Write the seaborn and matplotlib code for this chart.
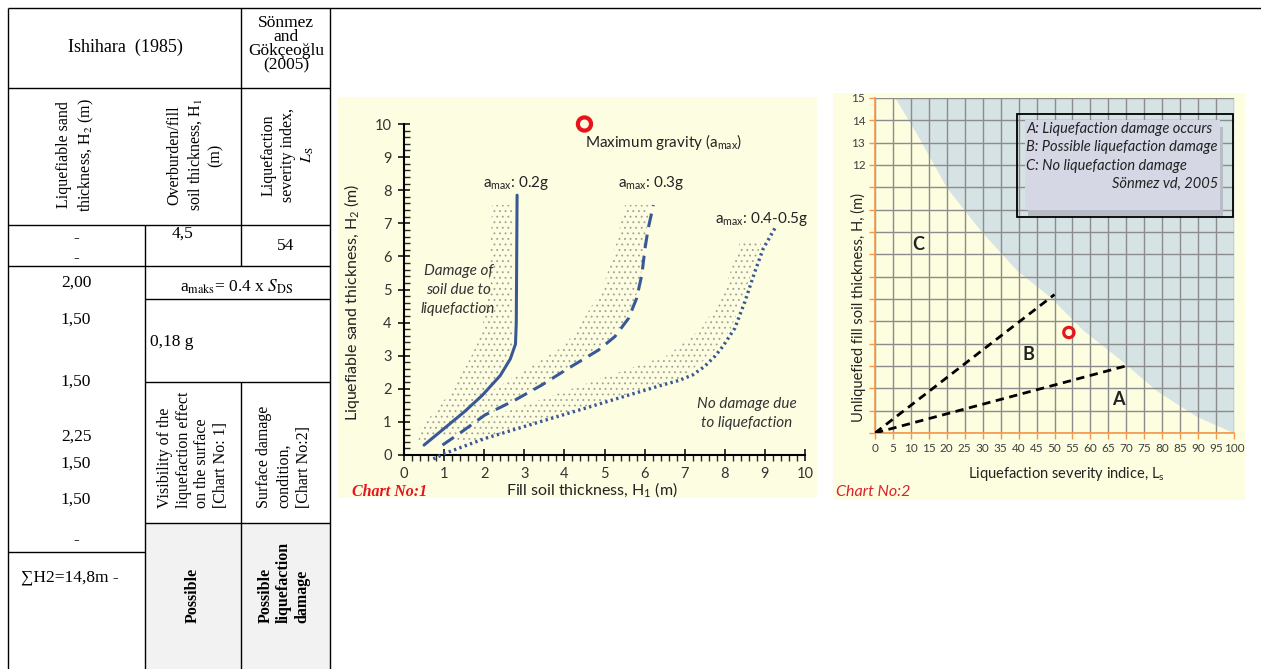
import numpy as np
import pandas as pd
import matplotlib
matplotlib.use("Agg")
import matplotlib.pyplot as plt
import seaborn as sns
from matplotlib.patches import Rectangle
from matplotlib.ticker import MultipleLocator

# ── Chart No:1 (Ishihara 1985) — boundary curves, H1 (x) vs H2 (y) ──────────
curve_02_h1 = [0.5, 1.0, 1.5, 1.95, 2.4, 2.65, 2.78, 2.8, 2.82]
curve_02_h2 = [0.3, 0.8, 1.3, 1.8, 2.4, 2.9, 3.35, 4.0, 7.85]
curve_03_h1 = [0.96, 1.44, 2.02, 2.77, 3.43, 4.1, 4.85, 5.26, 5.6, 5.8, 5.93, 6.01, 6.09, 6.22]
curve_03_h2 = [0.3, 0.7, 1.21, 1.66, 2.11, 2.62, 3.17, 3.58, 4.13, 4.73, 5.44, 6.24, 6.85, 7.55]
curve_045_h1 = [0.73, 1.02, 2.02, 3.27, 4.51, 5.6, 6.43, 6.85, 7.2, 7.5, 7.75, 7.95,
                8.25, 8.5, 8.75, 8.96, 9.25]
curve_045_h2 = [-0.12, 0.05, 0.5, 0.96, 1.41, 1.81, 2.11, 2.25, 2.42, 2.68, 2.98, 3.28,
                3.83, 4.63, 5.54, 6.24, 6.85]

# stippled transition bands (left edge / right edge at given H2)
band1_h2 = [0.4, 0.8, 1.3, 1.8, 2.3, 2.8, 3.3, 3.8, 5.0, 6.0, 7.55]
band1_left = [0.35, 0.4, 0.75, 1.1, 1.35, 1.6, 1.8, 1.95, 2.1, 2.15, 2.2]
band1_right = [0.6, 1.0, 1.5, 1.95, 2.3, 2.6, 2.72, 2.72, 2.72, 2.72, 2.72]
band2_h2 = [0.6, 1.0, 1.5, 2.0, 2.5, 3.0, 3.3, 4.0, 5.0, 6.0, 7.55]
band2_left = [0.95, 1.1, 1.6, 2.27, 2.93, 3.6, 4.0, 4.43, 4.93, 5.22, 5.51]
band2_right = [1.3, 1.75, 2.55, 3.3, 4.0, 4.6, 4.95, 5.5, 5.85, 5.98, 6.12]
band3_h2 = [0.4, 1.0, 1.61, 2.32, 3.02, 3.83, 4.63, 5.34, 6.45]
band3_left = [1.2, 1.77, 3.27, 4.93, 6.59, 7.42, 7.84, 8.09, 8.38]
band3_right = [1.8, 3.3, 4.95, 6.9, 7.65, 8.15, 8.42, 8.62, 8.92]

site_h1, site_h2 = 4.5, 10.0

# ── Chart No:2 (Sönmez & Gökçeoğlu 2005) — Ls (x) vs H1 (y) ─────────────────
zone_c_ls = [5.6, 11.6, 19.9, 29.2, 39.4, 48.7, 58, 68.2, 78.4, 89.5, 100]
zone_c_h = [15, 13.4, 11.0, 9.1, 7.3, 6.1, 4.6, 3.3, 1.9, 0.75, 0]
line_b_ls, line_b_h = [0, 50], [0, 6.2]
line_a_ls, line_a_h = [0, 71], [0, 3.05]
site_ls = 54

# ── Table values ─────────────────────────────────────────────────────────────
h2_values = ["2,00", "1,50", "1,50", "2,25", "1,50", "1,50", "-"]
h2_rows_y = [283, 320, 382, 437, 464, 500, 540]
h2_total = "∑H2=14,8m -"
h1_value = "4,5"
ls_value = "54"
amax_value = "0,18 g"

W, H = 1261, 669
BLUE = "#3a5896"
RED = "#e8141c"

sns.set_theme(style="ticks")
plt.rcParams["font.family"] = ["Lato", "DejaVu Sans"]
plt.rcParams["mathtext.fontset"] = "custom"
plt.rcParams["mathtext.rm"] = "Lato"
plt.rcParams["mathtext.it"] = "Lato:italic"
plt.rcParams["hatch.linewidth"] = 0.6

fig = plt.figure(figsize=(W / 100, H / 100), dpi=100)
fig.patch.set_facecolor("white")

# ── Table drawn in pixel space ───────────────────────────────────────────────
ax_t = fig.add_axes([0, 0, 1, 1], zorder=0)
ax_t.set_xlim(0, W)
ax_t.set_ylim(H, 0)
ax_t.axis("off")

ax_t.add_patch(Rectangle((145, 523), 185, 146, fc="#f2f2f2", ec="none"))
ax_t.add_patch(Rectangle((338, 97), 479, 401, fc="#fdfde2", ec="none"))
ax_t.add_patch(Rectangle((833, 93), 412, 407, fc="#fdfde0", ec="none"))

lines = [((8, 1261), (8, 8)), ((8, 8), (8, 669)), ((330, 330), (8, 669)),
         ((241, 241), (8, 266)), ((8, 330), (88, 88)), ((8, 330), (225, 225)),
         ((145, 145), (225, 669)), ((8, 330), (266, 266)), ((145, 330), (299, 299)),
         ((145, 330), (382, 382)), ((241, 241), (382, 669)), ((145, 330), (523, 523)),
         ((8, 145), (552, 552))]
for xs, ys in lines:
    ax_t.plot(xs, ys, color="black", lw=1.0, solid_capstyle="butt")

serif = dict(family="Liberation Serif", math_fontfamily="stix", color="black")
ax_t.text(125, 47, "Ishihara  (1985)", fontsize=13, ha="center", va="center", **serif)
ax_t.text(286, 44, "Sönmez\nand\nGökçeoğlu\n(2005)", fontsize=12.5, ha="center",
          va="center", linespacing=0.85, **serif)
ax_t.text(76, 155, "Liquefiable sand\nthickness, H$_2$ (m)", fontsize=11.5, rotation=90,
          ha="center", va="center", multialignment="center", linespacing=1.35, **serif)
ax_t.text(195, 155, "Overburden/fill\nsoil thickness, H$_1$\n(m)", fontsize=11.5, rotation=90,
          ha="center", va="center", multialignment="center", linespacing=1.3, **serif)
ax_t.text(288, 155, "Liquefaction\nseverity index,\n$L_{\\rm S}$", fontsize=11.5, rotation=90,
          ha="center", va="center", multialignment="center", linespacing=1.3, **serif)
ax_t.text(76, 238, "-", fontsize=12.5, ha="center", va="center", **serif)
ax_t.text(76, 258, "-", fontsize=12.5, ha="center", va="center", **serif)
ax_t.text(183, 234, h1_value, fontsize=12.5, ha="center", va="center", **serif)
ax_t.text(286, 246, ls_value, fontsize=12.5, ha="center", va="center", **serif)
for val, yy in zip(h2_values, h2_rows_y):
    ax_t.text(76, yy, val, fontsize=12.5, ha="center", va="center", **serif)
ax_t.text(70, 578, h2_total, fontsize=12.5, ha="center", va="center", **serif)
ax_t.text(237, 287, "a$_{\\rm maks}$= 0.4 x $S_{\\rm DS}$", fontsize=12.5, ha="center",
          va="center", **serif)
ax_t.text(150, 342, amax_value, fontsize=12.5, ha="left", va="center", **serif)
ax_t.text(193, 508, "Visibility of the\nliquefaction effect\non the surface\n[Chart No: 1]",
          fontsize=11.5, rotation=90, ha="center", va="bottom", multialignment="left",
          linespacing=1.2, **serif)
ax_t.text(284, 508, "Surface damage\ncondition,\n[Chart No:2]", fontsize=11.5, rotation=90,
          ha="center", va="bottom", multialignment="left", linespacing=1.35, **serif)
ax_t.text(193, 623, "Possible", fontsize=11.5, rotation=90, fontweight="bold",
          ha="center", va="bottom", **serif)
ax_t.text(284, 623, "Possible\nliquefaction\ndamage", fontsize=11.5, rotation=90,
          fontweight="bold", ha="center", va="bottom", multialignment="left",
          linespacing=1.2, **serif)

# ── Chart No:1 ───────────────────────────────────────────────────────────────
ax1 = fig.add_axes([404 / W, (H - 455) / H, 401 / W, 331 / H], zorder=2)
ax1.patch.set_alpha(0)

for by, bl, br in [(band1_h2, band1_left, band1_right),
                   (band2_h2, band2_left, band2_right),
                   (band3_h2, band3_left, band3_right)]:
    ax1.fill_betweenx(by, bl, br, facecolor="none", edgecolor="#a0a098",
                      hatch="...", linewidth=0, zorder=1)

sns.lineplot(x=curve_02_h1, y=curve_02_h2, sort=False, estimator=None, ax=ax1,
             color=BLUE, linewidth=2.2, zorder=3)
sns.lineplot(x=curve_03_h1, y=curve_03_h2, sort=False, estimator=None, ax=ax1,
             color=BLUE, linewidth=2.2, linestyle=(0, (4.5, 2.5)), zorder=3)
sns.lineplot(x=curve_045_h1, y=curve_045_h2, sort=False, estimator=None, ax=ax1,
             color=BLUE, linewidth=2.4, linestyle=(0, (0.7, 1.0)), zorder=3,
             clip_on=False)
sns.scatterplot(x=[site_h1], y=[site_h2], ax=ax1, s=90, facecolor="none",
                edgecolor=RED, linewidth=3.0, clip_on=False, zorder=5)

ax1.set_xlim(0, 10)
ax1.set_ylim(0, 10)
ax1.set_xticks(range(0, 11))
ax1.set_yticks(range(0, 11))
ax1.xaxis.set_minor_locator(MultipleLocator(0.2))
ax1.yaxis.set_minor_locator(MultipleLocator(0.2))
ax1.tick_params(which="major", direction="inout", length=8, width=1.3,
                labelsize=10.5, labelcolor="#333333", pad=5)
ax1.tick_params(axis="x", which="minor", direction="out", length=4, width=1)
ax1.tick_params(axis="y", which="minor", direction="in", length=4, width=1)
for s in ["top", "right"]:
    ax1.spines[s].set_visible(False)
for s in ["left", "bottom"]:
    ax1.spines[s].set_linewidth(1.5)
    ax1.spines[s].set_color("black")

ax1.set_xlabel("Fill soil thickness, H$_1$ (m)", fontsize=11.5, color="#222222")
ax1.xaxis.set_label_coords(0.469, -0.075)
ax1.set_ylabel("Liquefiable sand thickness, H$_2$ (m)", fontsize=11.5, color="#222222")
ax1.yaxis.set_label_coords(-0.105, 0.46)

ax1.text(4.51, 9.45, "Maximum gravity (a$_{\\rm max}$)", fontsize=11, color="#222222",
         ha="left", va="center")
ax1.text(1.98, 8.22, "a$_{\\rm max}$: 0.2g", fontsize=11, color="#222222", ha="left", va="center")
ax1.text(5.33, 8.22, "a$_{\\rm max}$: 0.3g", fontsize=11, color="#222222", ha="left", va="center")
ax1.text(7.76, 7.13, "a$_{\\rm max}$: 0.4-0.5g", fontsize=11, color="#222222",
         ha="left", va="center")
ax1.text(1.35, 4.98, "Damage of\nsoil due to\nliquefaction", fontsize=11, style="italic",
         color="#333333", ha="center", va="center", linespacing=1.45)
ax1.text(8.55, 1.25, "No damage due\nto liquefaction", fontsize=11, style="italic",
         color="#333333", ha="center", va="center", linespacing=1.45)
fig.text(352 / W, 1 - 492 / H, "Chart No:1", family="Liberation Serif", fontsize=11.5,
         fontweight="bold", style="italic", color=RED, ha="left", va="center")

# ── Chart No:2 ───────────────────────────────────────────────────────────────
ax2 = fig.add_axes([875 / W, (H - 433) / H, 359 / W, 335 / H], zorder=2)
ax2.patch.set_alpha(0)

ax2.fill_between(zone_c_ls, zone_c_h, 15, color="#d6e3e4", linewidth=0, zorder=0.2)
ax2.set_xlim(0, 100)
ax2.set_ylim(0, 15)
ax2.set_xticks(range(0, 101, 5))
ax2.set_yticks(range(0, 16))
ax2.set_yticklabels([""] * 12 + ["12", "13", "14", "15"])
ax2.grid(True, color="#8c8c8c", linewidth=1.0, zorder=0.5)
ax2.set_axisbelow(True)
ax2.tick_params(direction="out", length=4, width=1, color="#f79646",
                labelsize=8.5, labelcolor="#404040", pad=3)
for s in ["top", "right"]:
    ax2.spines[s].set_visible(False)
for s in ["left", "bottom"]:
    ax2.spines[s].set_color("#f79646")
    ax2.spines[s].set_linewidth(1.2)

sns.lineplot(x=line_b_ls, y=line_b_h, ax=ax2, color="black", linewidth=2.0,
             linestyle=(0, (3, 2)), zorder=3)
sns.lineplot(x=line_a_ls, y=line_a_h, ax=ax2, color="black", linewidth=2.0,
             linestyle=(0, (3, 2)), zorder=3)
sns.scatterplot(x=[site_ls], y=[site_h1], ax=ax2, s=55, facecolor="none",
                edgecolor=RED, linewidth=2.3, zorder=5)

ax2.text(12.1, 8.43, "C", fontsize=13, fontweight="bold", color="#222222", ha="center", va="center")
ax2.text(42.8, 3.5, "B", fontsize=13, fontweight="bold", color="#222222", ha="center", va="center")
ax2.text(67.7, 1.5, "A", fontsize=13, fontweight="bold", color="#222222", ha="center", va="center")

ax2.add_patch(Rectangle((42.6, 9.7), 54.3, 4.0, fc="#b8bcc4", ec="none", zorder=3))
ax2.add_patch(Rectangle((41.8, 10.0), 54.3, 4.0, fc="#d5d8e4", ec="none", zorder=3.1))
ax2.add_patch(Rectangle((39.6, 9.67), 60.1, 4.62, fill=False, ec="black", lw=1.3, zorder=3.2))
legend_lines = ["A: Liquefaction damage occurs", "B: Possible liquefaction damage",
                "C: No liquefaction damage"]
for txt, yy in zip(legend_lines, [13.6, 12.8, 11.97]):
    ax2.text(42.2, yy, txt, fontsize=10.5, style="italic", color="#222222",
             ha="left", va="center", zorder=4)
ax2.text(95.5, 11.16, "Sönmez vd, 2005", fontsize=10.5, style="italic", color="#222222",
         ha="right", va="center", zorder=4)

ax2.set_xlabel("Liquefaction severity indice, L$_{\\rm s}$", fontsize=10.5, color="#222222")
ax2.xaxis.set_label_coords(0.534, -0.095)
ax2.set_ylabel("Unliquefied fill soil thickness, H, (m)", fontsize=10.5, color="#222222")
ax2.yaxis.set_label_coords(-0.025, 0.376)
fig.text(836 / W, 1 - 492 / H, "Chart No:2", fontsize=11.5, style="italic",
         color="#d9232d", ha="left", va="center")

fig.savefig("out.png", dpi=100)
